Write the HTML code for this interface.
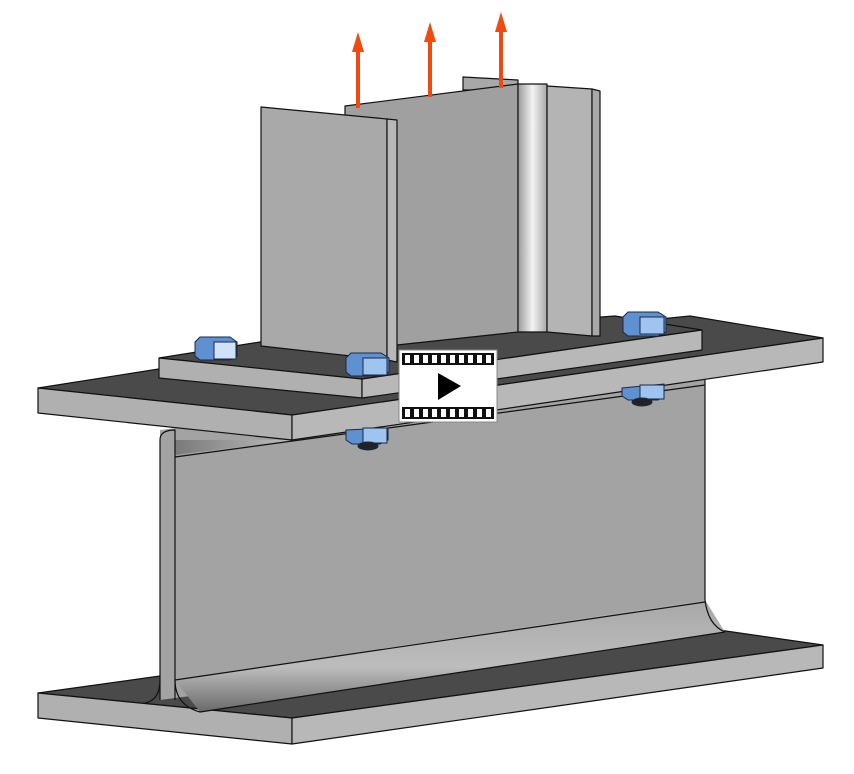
<!DOCTYPE html>
<html><head><meta charset="utf-8"><style>body{margin:0;background:#fff}svg{display:block}</style></head><body>
<svg width="854" height="774" viewBox="0 0 854 774" xmlns="http://www.w3.org/2000/svg">
<defs>
<linearGradient id="cyl" x1="0" x2="1"><stop offset="0" stop-color="#9a9a9a"/><stop offset="0.5" stop-color="#f4f4f4"/><stop offset="1" stop-color="#a8a8a8"/></linearGradient>
<linearGradient id="fil" x1="0" y1="0" x2="0" y2="1"><stop offset="0" stop-color="#a8a8a8"/><stop offset="0.6" stop-color="#bdbdbd"/><stop offset="1" stop-color="#6a6a6a"/></linearGradient>
<linearGradient id="fil2" x1="0" x2="1"><stop offset="0" stop-color="#7a7a7a"/><stop offset="1" stop-color="#bdbdbd"/></linearGradient>
</defs>
<g stroke="#111" stroke-width="1.2" stroke-linejoin="round">
<!-- bottom flange -->
<polygon points="38,693 160,676 705,628 823,645 292,718" fill="#4a4a4a"/>
<polygon points="38,693 292,718 292,744 38,718" fill="#b0b0b0"/>
<polygon points="292,718 823,645 823,668 292,744" fill="#b8b8b8"/>
<!-- web -->
<polygon points="160,430 705,360 705,628 160,700" fill="#a3a3a3" stroke="none"/>
<path d="M160,700 L160,440" fill="none"/>
<path d="M175,700 L175,455" fill="none"/>
<polygon points="175,680 705,600 725,632 200,712" fill="url(#fil)" stroke="none"/>
<path d="M175,680 L705,602" fill="none"/>
<path d="M200,712 L725,632" fill="none"/>
<path d="M705,600 Q708,625 725,632" fill="none"/>
<path d="M175,680 Q175,705 200,712" fill="none"/>
<path d="M160,680 Q160,700 145,703" fill="none"/>
<path d="M705,380 L705,600" fill="none"/>
<!-- top web fillet -->
<polygon points="175,455 292,440 175,440" fill="url(#fil2)" stroke="none"/>
<path d="M160,440 Q160,430 175,430 L175,440 Q175,450 175,455" fill="none"/>
<path d="M175,457 L705,385" fill="none"/>
<!-- top flange -->
<polygon points="38,388 165,368 690,316 823,338 292,415" fill="#4a4a4a"/>
<polygon points="38,388 292,415 292,440 38,413" fill="#b0b0b0"/>
<polygon points="292,415 823,338 823,362 292,440" fill="#b8b8b8"/>
<!-- base plate -->
<polygon points="159,358 260,342 615,316 702,330 362,379" fill="#4a4a4a"/>
<polygon points="159,358 362,379 362,398 159,378" fill="#b0b0b0"/>
<polygon points="362,379 702,330 702,350 362,398" fill="#b8b8b8"/>
<!-- column -->
<polygon points="463,77 518,80 518,90 463,90" fill="#a8a8a8"/>
<polygon points="345,106 518,84 518,332 397,345 345,345" fill="#a0a0a0"/>
<rect x="518" y="84" width="29" height="248" fill="url(#cyl)"/>
<polygon points="547,86 592,89 592,336 547,332" fill="#b4b4b4"/>
<polygon points="592,89 600,91 600,336 592,336" fill="#a8a8a8"/>
<polygon points="261,107 387,119 387,360 261,346" fill="#a9a9a9"/>
<polygon points="387,119 397,120 397,362 387,360" fill="#b8b8b8"/>
</g>
<!-- arrows -->
<g fill="#f04a10" stroke="none">
<rect x="356" y="50" width="4" height="58"/><polygon points="352,52 364,52 358,32"/>
<rect x="428" y="40" width="4" height="57"/><polygon points="424,42 436,42 430,22"/>
<rect x="499" y="30" width="4" height="58"/><polygon points="495,32 507,32 501,12"/>
</g>
<!-- bolts -->
<g stroke="#1a2a44" stroke-width="1">
<g><polygon points="195,342 200,337 230,337 237,342 237,356 230,360 200,360 195,356" fill="#5f90d0"/><rect x="214" y="342" width="22" height="17" fill="#cfe2f8"/></g>
<g><polygon points="346,358 351,353 381,353 389,358 389,372 381,376 351,376 346,372" fill="#5f90d0"/><rect x="363" y="358" width="24" height="17" fill="#9fc4f0"/></g>
<g><polygon points="623,317 628,312 658,312 666,317 666,332 658,336 628,336 623,332" fill="#5f90d0"/><rect x="640" y="317" width="24" height="17" fill="#9fc4f0"/></g>
<g><polygon points="346,430 388,428 388,440 380,444 352,444 346,440" fill="#5f90d0"/><rect x="363" y="428" width="24" height="15" fill="#9fc4f0"/><ellipse cx="368" cy="446" rx="10" ry="4" fill="#222"/></g>
<g><polygon points="622,388 664,384 664,396 658,400 628,400 622,396" fill="#5f90d0"/><rect x="640" y="385" width="24" height="14" fill="#9fc4f0"/><ellipse cx="642" cy="402" rx="10" ry="4" fill="#222"/></g>
</g>
<!-- video icon -->
<rect x="399" y="350" width="98" height="72" fill="#fff" stroke="#888" stroke-width="1"/>
<rect x="402" y="353" width="92" height="12" fill="#111"/>
<rect x="402" y="407" width="92" height="12" fill="#111"/>
<g fill="#fff">
<rect x="405" y="355" width="5" height="8"/><rect x="414" y="355" width="5" height="8"/><rect x="423" y="355" width="5" height="8"/><rect x="432" y="355" width="5" height="8"/><rect x="441" y="355" width="5" height="8"/><rect x="450" y="355" width="5" height="8"/><rect x="459" y="355" width="5" height="8"/><rect x="468" y="355" width="5" height="8"/><rect x="477" y="355" width="5" height="8"/><rect x="486" y="355" width="5" height="8"/>
<rect x="405" y="409" width="5" height="8"/><rect x="414" y="409" width="5" height="8"/><rect x="423" y="409" width="5" height="8"/><rect x="432" y="409" width="5" height="8"/><rect x="441" y="409" width="5" height="8"/><rect x="450" y="409" width="5" height="8"/><rect x="459" y="409" width="5" height="8"/><rect x="468" y="409" width="5" height="8"/><rect x="477" y="409" width="5" height="8"/><rect x="486" y="409" width="5" height="8"/>
</g>
<polygon points="438,373 438,400 461,386" fill="#000"/>
</svg>
</body></html>
